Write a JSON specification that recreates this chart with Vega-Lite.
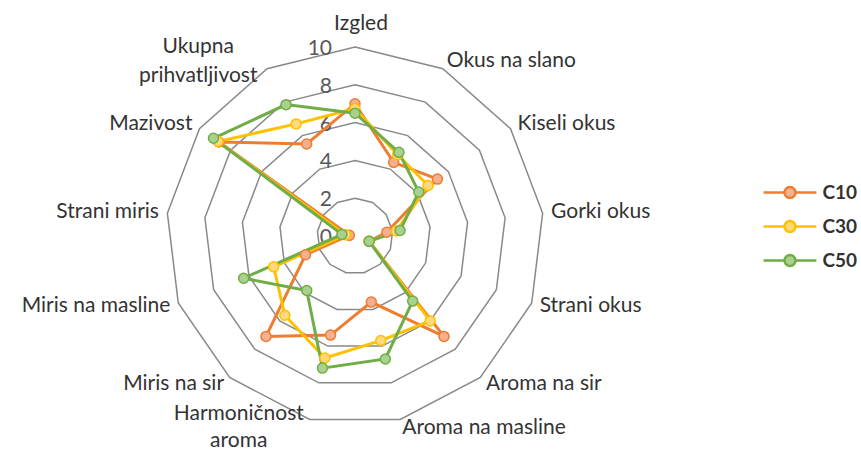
{
  "$schema": "https://vega.github.io/schema/vega-lite/v6.json",
  "width": 861,
  "height": 450,
  "autosize": {"type": "none"},
  "padding": 0,
  "background": "white",
  "config": {"view": {"stroke": null}},
  "datasets": {
    "scores": [
      {"series": "C10", "attr": "Izgled", "value": 7.0},
      {"series": "C10", "attr": "Okus na slano", "value": 4.4},
      {"series": "C10", "attr": "Kiseli okus", "value": 5.3},
      {"series": "C10", "attr": "Gorki okus", "value": 1.7},
      {"series": "C10", "attr": "Strani okus", "value": 0.8},
      {"series": "C10", "attr": "Aroma na sir", "value": 7.1},
      {"series": "C10", "attr": "Aroma na masline", "value": 3.6},
      {"series": "C10", "attr": "Harmoničnost aroma", "value": 5.4},
      {"series": "C10", "attr": "Miris na sir", "value": 7.1},
      {"series": "C10", "attr": "Miris na masline", "value": 2.8},
      {"series": "C10", "attr": "Strani miris", "value": 0.3},
      {"series": "C10", "attr": "Mazivost", "value": 8.75},
      {"series": "C10", "attr": "Ukupna prihvatljivost", "value": 5.5},
      {"series": "C30", "attr": "Izgled", "value": 6.75},
      {"series": "C30", "attr": "Okus na slano", "value": 4.85},
      {"series": "C30", "attr": "Kiseli okus", "value": 4.7},
      {"series": "C30", "attr": "Gorki okus", "value": 2.2},
      {"series": "C30", "attr": "Strani okus", "value": 0.8},
      {"series": "C30", "attr": "Aroma na sir", "value": 6.0},
      {"series": "C30", "attr": "Aroma na masline", "value": 5.7},
      {"series": "C30", "attr": "Harmoničnost aroma", "value": 6.65},
      {"series": "C30", "attr": "Miris na sir", "value": 5.6},
      {"series": "C30", "attr": "Miris na masline", "value": 4.6},
      {"series": "C30", "attr": "Strani miris", "value": 0.5},
      {"series": "C30", "attr": "Mazivost", "value": 8.8},
      {"series": "C30", "attr": "Ukupna prihvatljivost", "value": 6.7},
      {"series": "C50", "attr": "Izgled", "value": 6.5},
      {"series": "C50", "attr": "Okus na slano", "value": 5.0},
      {"series": "C50", "attr": "Kiseli okus", "value": 4.1},
      {"series": "C50", "attr": "Gorki okus", "value": 2.4},
      {"series": "C50", "attr": "Strani okus", "value": 0.8},
      {"series": "C50", "attr": "Aroma na sir", "value": 4.6},
      {"series": "C50", "attr": "Aroma na masline", "value": 6.7},
      {"series": "C50", "attr": "Harmoničnost aroma", "value": 7.2},
      {"series": "C50", "attr": "Miris na sir", "value": 3.85},
      {"series": "C50", "attr": "Miris na masline", "value": 6.3},
      {"series": "C50", "attr": "Strani miris", "value": 0.7},
      {"series": "C50", "attr": "Mazivost", "value": 9.1},
      {"series": "C50", "attr": "Ukupna prihvatljivost", "value": 7.85}
    ],
    "attrs": [
      {"attr": "Izgled", "label": "Izgled", "levels": [2, 4, 6, 8, 10]},
      {"attr": "Okus na slano", "label": "Okus na slano", "levels": [2, 4, 6, 8, 10]},
      {"attr": "Kiseli okus", "label": "Kiseli okus", "levels": [2, 4, 6, 8, 10]},
      {"attr": "Gorki okus", "label": "Gorki okus", "levels": [2, 4, 6, 8, 10]},
      {"attr": "Strani okus", "label": "Strani okus", "levels": [2, 4, 6, 8, 10]},
      {"attr": "Aroma na sir", "label": "Aroma na sir", "levels": [2, 4, 6, 8, 10]},
      {"attr": "Aroma na masline", "label": "Aroma na masline", "levels": [2, 4, 6, 8, 10]},
      {"attr": "Harmoničnost aroma", "label": "Harmoničnost\naroma", "levels": [2, 4, 6, 8, 10]},
      {"attr": "Miris na sir", "label": "Miris na sir", "levels": [2, 4, 6, 8, 10]},
      {"attr": "Miris na masline", "label": "Miris na masline", "levels": [2, 4, 6, 8, 10]},
      {"attr": "Strani miris", "label": "Strani miris", "levels": [2, 4, 6, 8, 10]},
      {"attr": "Mazivost", "label": "Mazivost", "levels": [2, 4, 6, 8, 10]},
      {"attr": "Ukupna prihvatljivost", "label": "Ukupna\nprihvatljivost", "levels": [2, 4, 6, 8, 10]}
    ],
    "ticks": [{"v": 0}, {"v": 2}, {"v": 4}, {"v": 6}, {"v": 8}, {"v": 10}]
  },
  "encoding": {
    "x": {"field": "x", "type": "quantitative", "scale": {"domain": [-18.783, 26.772], "nice": false, "zero": false}, "axis": null},
    "y": {"field": "y", "type": "quantitative", "scale": {"domain": [-11.323, 12.487], "nice": false, "zero": false}, "axis": null}
  },
  "layer": [
    {
      "data": {"name": "attrs"},
      "transform": [
        {"flatten": ["levels"], "as": ["level"]},
        {"calculate": "indexof(['Izgled','Okus na slano','Kiseli okus','Gorki okus','Strani okus','Aroma na sir','Aroma na masline','Harmoničnost aroma','Miris na sir','Miris na masline','Strani miris','Mazivost','Ukupna prihvatljivost'], datum.attr)", "as": "idx"},
        {"calculate": "2*PI*datum.idx/13", "as": "ang"},
        {"calculate": "datum.level*sin(datum.ang)", "as": "x"},
        {"calculate": "datum.level*cos(datum.ang)", "as": "y"}
      ],
      "mark": {"type": "line", "interpolate": "linear-closed", "color": "#898989", "strokeWidth": 1.5},
      "encoding": {
        "detail": {"field": "level", "type": "nominal"},
        "order": {"field": "idx", "type": "quantitative"}
      }
    },
    {
      "data": {"name": "ticks"},
      "transform": [
        {"calculate": "0", "as": "x"},
        {"calculate": "datum.v", "as": "y"}
      ],
      "mark": {"type": "text", "align": "right", "baseline": "middle", "dx": -23, "dy": 2, "fontSize": 21, "font": "Lato", "color": "#595959"},
      "encoding": {"text": {"field": "v", "type": "quantitative"}}
    },
    {
      "data": {"name": "scores"},
      "transform": [
        {"calculate": "indexof(['Izgled','Okus na slano','Kiseli okus','Gorki okus','Strani okus','Aroma na sir','Aroma na masline','Harmoničnost aroma','Miris na sir','Miris na masline','Strani miris','Mazivost','Ukupna prihvatljivost'], datum.attr)", "as": "idx"},
        {"calculate": "2*PI*datum.idx/13", "as": "ang"},
        {"calculate": "datum.value*sin(datum.ang)", "as": "x"},
        {"calculate": "datum.value*cos(datum.ang)", "as": "y"}
      ],
      "mark": {"type": "line", "interpolate": "linear-closed", "strokeWidth": 3},
      "encoding": {
        "stroke": {
          "field": "series", "type": "nominal",
          "scale": {"domain": ["C10", "C30", "C50"], "range": ["#ED7D31", "#FFC000", "#70AD47"]},
          "legend": {"orient": "none", "legendX": 766.5, "legendY": 169, "title": null, "symbolType": "M-1.2,0L-0.25,0M0.25,0L1.2,0M-0.25,0A0.25,0.25,0,1,1,0.25,0A0.25,0.25,0,1,1,-0.25,0Z", "symbolSize": 1936, "symbolStrokeWidth": 2.5, "labelFontSize": 19, "labelFont": "Lato", "labelFontWeight": "bold", "labelColor": "#333333", "labelOffset": 9, "rowPadding": 0, "padding": 0}
        },
        "order": {"field": "idx", "type": "quantitative"}
      }
    },
    {
      "data": {"name": "scores"},
      "transform": [
        {"calculate": "indexof(['Izgled','Okus na slano','Kiseli okus','Gorki okus','Strani okus','Aroma na sir','Aroma na masline','Harmoničnost aroma','Miris na sir','Miris na masline','Strani miris','Mazivost','Ukupna prihvatljivost'], datum.attr)", "as": "idx"},
        {"calculate": "2*PI*datum.idx/13", "as": "ang"},
        {"calculate": "datum.value*sin(datum.ang)", "as": "x"},
        {"calculate": "datum.value*cos(datum.ang)", "as": "y"}
      ],
      "mark": {"type": "circle", "size": 100, "strokeWidth": 1.5, "opacity": 1},
      "encoding": {
        "stroke": {
          "field": "series", "type": "nominal",
          "scale": {"domain": ["C10", "C30", "C50"], "range": ["#ED7D31", "#FFC000", "#70AD47"]},
          "legend": {"orient": "none", "legendX": 766.5, "legendY": 169, "title": null, "symbolType": "M-1.2,0L-0.25,0M0.25,0L1.2,0M-0.25,0A0.25,0.25,0,1,1,0.25,0A0.25,0.25,0,1,1,-0.25,0Z", "symbolSize": 1936, "symbolStrokeWidth": 2.5, "labelFontSize": 19, "labelFont": "Lato", "labelFontWeight": "bold", "labelColor": "#333333", "labelOffset": 9, "rowPadding": 0, "padding": 0}
        },
        "fill": {
          "field": "series", "type": "nominal",
          "scale": {"domain": ["C10", "C30", "C50"], "range": ["#F4B08F", "#FFD97A", "#A9D18E"]},
          "legend": {"orient": "none", "legendX": 766.5, "legendY": 169, "title": null, "symbolType": "M-1.2,0L-0.25,0M0.25,0L1.2,0M-0.25,0A0.25,0.25,0,1,1,0.25,0A0.25,0.25,0,1,1,-0.25,0Z", "symbolSize": 1936, "symbolStrokeWidth": 2.5, "labelFontSize": 19, "labelFont": "Lato", "labelFontWeight": "bold", "labelColor": "#333333", "labelOffset": 9, "rowPadding": 0, "padding": 0}
        }
      }
    },
    {
      "data": {"name": "attrs"},
      "transform": [
        {"calculate": "indexof(['Izgled','Okus na slano','Kiseli okus','Gorki okus','Strani okus','Aroma na sir','Aroma na masline','Harmoničnost aroma','Miris na sir','Miris na masline','Strani miris','Mazivost','Ukupna prihvatljivost'], datum.attr)", "as": "idx"},
        {"calculate": "2*PI*datum.idx/13", "as": "ang"},
        {"calculate": "10.45*sin(datum.ang)", "as": "x"},
        {"calculate": "10.45*cos(datum.ang)", "as": "y"},
        {"filter": "datum.x > 1"}
      ],
      "mark": {"type": "text", "align": "left", "baseline": "middle", "fontSize": 21, "font": "Lato", "color": "#333333"},
      "encoding": {"text": {"field": "label", "type": "nominal"}}
    },
    {
      "data": {"name": "attrs"},
      "transform": [
        {"calculate": "indexof(['Izgled','Okus na slano','Kiseli okus','Gorki okus','Strani okus','Aroma na sir','Aroma na masline','Harmoničnost aroma','Miris na sir','Miris na masline','Strani miris','Mazivost','Ukupna prihvatljivost'], datum.attr)", "as": "idx"},
        {"calculate": "2*PI*datum.idx/13", "as": "ang"},
        {"calculate": "10.45*sin(datum.ang)", "as": "x"},
        {"calculate": "10.45*cos(datum.ang)", "as": "y"},
        {"filter": "datum.x < -1 && datum.attr != 'Harmoničnost aroma' && datum.attr != 'Ukupna prihvatljivost'"}
      ],
      "mark": {"type": "text", "align": "right", "baseline": "middle", "fontSize": 21, "font": "Lato", "color": "#333333"},
      "encoding": {"text": {"field": "label", "type": "nominal"}}
    },
    {
      "data": {"name": "attrs"},
      "transform": [
        {"calculate": "indexof(['Izgled','Okus na slano','Kiseli okus','Gorki okus','Strani okus','Aroma na sir','Aroma na masline','Harmoničnost aroma','Miris na sir','Miris na masline','Strani miris','Mazivost','Ukupna prihvatljivost'], datum.attr)", "as": "idx"},
        {"calculate": "2*PI*datum.idx/13", "as": "ang"},
        {"calculate": "10.45*sin(datum.ang)", "as": "x"},
        {"calculate": "10.45*cos(datum.ang)", "as": "y"},
        {"filter": "datum.attr == 'Harmoničnost aroma'"}
      ],
      "mark": {"type": "text", "align": "center", "baseline": "middle", "dx": -69, "dy": -14, "fontSize": 21, "font": "Lato", "color": "#333333", "lineBreak": "\n", "lineHeight": 27},
      "encoding": {"text": {"field": "label", "type": "nominal"}}
    },
    {
      "data": {"name": "attrs"},
      "transform": [
        {"calculate": "indexof(['Izgled','Okus na slano','Kiseli okus','Gorki okus','Strani okus','Aroma na sir','Aroma na masline','Harmoničnost aroma','Miris na sir','Miris na masline','Strani miris','Mazivost','Ukupna prihvatljivost'], datum.attr)", "as": "idx"},
        {"calculate": "2*PI*datum.idx/13", "as": "ang"},
        {"calculate": "10.45*sin(datum.ang)", "as": "x"},
        {"calculate": "10.45*cos(datum.ang)", "as": "y"},
        {"filter": "datum.attr == 'Ukupna prihvatljivost'"}
      ],
      "mark": {"type": "text", "align": "center", "baseline": "middle", "dx": -65, "dy": -14, "fontSize": 21, "font": "Lato", "color": "#333333", "lineBreak": "\n", "lineHeight": 29},
      "encoding": {"text": {"field": "label", "type": "nominal"}}
    },
    {
      "data": {"name": "attrs"},
      "transform": [
        {"calculate": "indexof(['Izgled','Okus na slano','Kiseli okus','Gorki okus','Strani okus','Aroma na sir','Aroma na masline','Harmoničnost aroma','Miris na sir','Miris na masline','Strani miris','Mazivost','Ukupna prihvatljivost'], datum.attr)", "as": "idx"},
        {"calculate": "2*PI*datum.idx/13", "as": "ang"},
        {"calculate": "10.45*sin(datum.ang)", "as": "x"},
        {"calculate": "10.45*cos(datum.ang)", "as": "y"},
        {"filter": "abs(datum.x) <= 1"}
      ],
      "mark": {"type": "text", "align": "center", "baseline": "bottom", "dx": 6, "dy": -4, "fontSize": 21, "font": "Lato", "color": "#333333"},
      "encoding": {"text": {"field": "label", "type": "nominal"}}
    }
  ]
}
